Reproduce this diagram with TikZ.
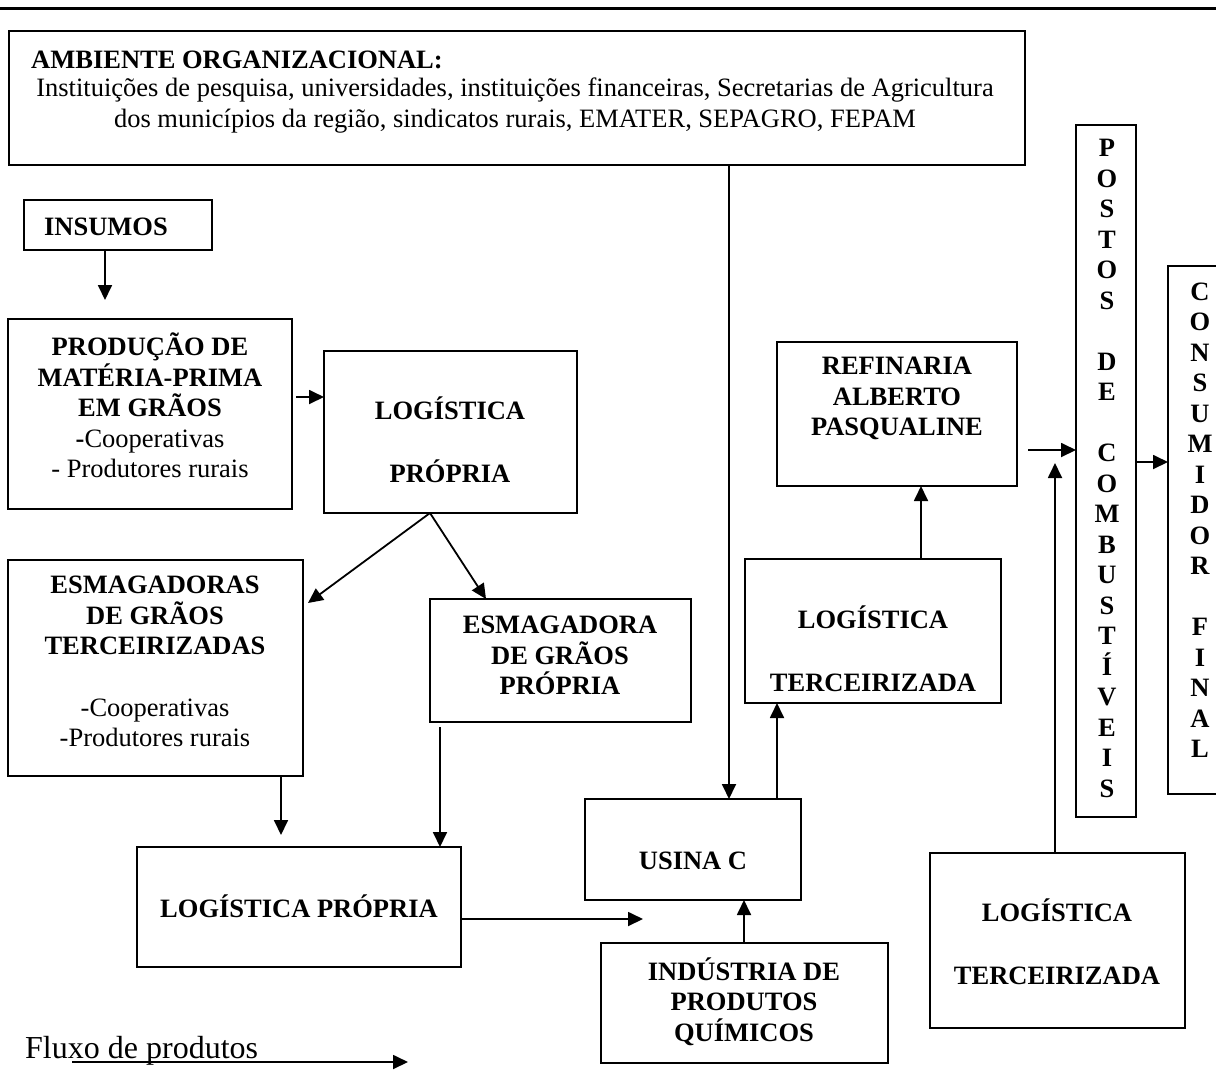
\documentclass[tikz,border=0pt]{standalone}
\usepackage{fontspec}
\setmainfont{Liberation Serif}
\usetikzlibrary{arrows.meta}
\begin{document}
\begin{tikzpicture}[x=1pt,y=-1pt,
  box/.style={draw, line width=2pt, anchor=north west, inner sep=0pt, outer sep=0pt},
  txt/.style={align=center, inner sep=0pt, font=\fontsize{26.5}{30.5}\selectfont\bfseries,
    execute at begin node=\strut, execute at end node=\strut},
  plain/.style={txt, font=\fontsize{26.5}{30.5}\selectfont},
  legend/.style={txt, font=\fontsize{32}{37}\selectfont},
  arr/.style={line width=1.8pt, -{Triangle[length=15pt,width=14pt]}}
]
\useasboundingbox (0,0) rectangle (1216,1080);
\fill[white] (0,0) rectangle (1216,1080);

% page rule
\draw[line width=3pt] (0,8) -- (1216,8);

% boxes
\node[box, minimum width=1016, minimum height=134] (amb) at (9,31) {};
\node[box, minimum width=188, minimum height=50] (ins) at (24,200) {};
\node[box, minimum width=284, minimum height=190] (prod) at (8,319) {};
\node[box, minimum width=253, minimum height=162] (log1) at (324,351) {};
\node[box, minimum width=295, minimum height=216] (esmT) at (8,560) {};
\node[box, minimum width=261, minimum height=123] (esmP) at (430,599) {};
\node[box, minimum width=324, minimum height=120] (log2) at (137,847) {};
\node[box, minimum width=216, minimum height=101] (usina) at (585,799) {};
\node[box, minimum width=287, minimum height=120] (ind) at (601,943) {};
\node[box, minimum width=256, minimum height=144] (logT1) at (745,559) {};
\node[box, minimum width=240, minimum height=144] (ref) at (777,342) {};
\node[box, minimum width=255, minimum height=175] (logT2) at (930,853) {};
\node[box, minimum width=60, minimum height=692] (postos) at (1076,125) {};
\node[box, minimum width=72, minimum height=528] (cons) at (1168,266) {};

% texts
\node[txt, anchor=west] (ambT) at (31,62.7) {AMBIENTE ORGANIZACIONAL:};
\node[plain] (ambB) at (515,107) {Instituições de pesquisa, universidades, instituições financeiras, Secretarias de Agricultura\\dos municípios da região, sindicatos rurais, EMATER, SEPAGRO, FEPAM};
\node[txt] (insT) at (106,229.7) {INSUMOS};
\node[txt] (prodT) at (150,410) {PRODUÇÃO DE\\MATÉRIA-PRIMA\\EM GRÃOS\\-{\mdseries Cooperativas}\\{\mdseries - Produtores rurais}};
\node[txt] (log1T) at (450,444) {LOGÍSTICA\\[32pt]PRÓPRIA};
\node[txt] (esmTT) at (155,666) {ESMAGADORAS\\DE GRÃOS\\TERCEIRIZADAS\\[31pt]{\mdseries -Cooperativas}\\{\mdseries -Produtores rurais}};
\node[txt] (esmPT) at (560,660) {ESMAGADORA\\DE GRÃOS\\PRÓPRIA};
\node[txt] (log2T) at (299,911) {LOGÍSTICA PRÓPRIA};
\node[txt] (usinaT) at (693,863) {USINA C};
\node[txt] (indT) at (744,1004) {INDÚSTRIA DE\\PRODUTOS\\QUÍMICOS};
\node[txt] (logT1T) at (873,653) {LOGÍSTICA\\[32pt]TERCEIRIZADA};
\node[txt] (refT) at (897,401) {REFINARIA\\ALBERTO\\PASQUALINE};
\node[txt] (logT2T) at (1057,946) {LOGÍSTICA\\[32pt]TERCEIRIZADA};
\node[txt] (postosT) at (1107,473) {P\\O\\S\\T\\O\\S\\[30.5pt]D\\E\\[30.5pt]C\\O\\M\\B\\U\\S\\T\\Í\\V\\E\\I\\S};
\node[txt] (consT) at (1200,525) {C\\O\\N\\S\\U\\M\\I\\D\\O\\R\\[30.5pt]F\\I\\N\\A\\L};
\node[legend, anchor=west] (flux) at (25,1050.6) {Fluxo de produtos};

% connector end points
\coordinate (insEnd) at (105,300);
\coordinate (prodOut) at (296,397);
\coordinate (esmTin) at (308,603);
\coordinate (esmPin) at (486,599);
\coordinate (esmTdown) at (281,835);
\coordinate (esmPdown) at (440,727);
\coordinate (log2out) at (643,919);
\coordinate (ambX) at (729,0);
\coordinate (usinaX) at (777,0);
\coordinate (logT1X) at (921,0);
\coordinate (refOut) at (1028,450);
\coordinate (logT2up) at (1055,463);
\coordinate (postosY) at (0,462);
\coordinate (indX) at (744,0);
\coordinate (legA) at (72,1062);
\coordinate (legB) at (408,1062);

% product flow
\draw[arr] (ins.south -| insEnd) -- (insEnd);
\draw[arr] (prodOut) -- (log1.west |- prodOut);
\draw[arr] (log1.south -| esmP.west) -- (esmTin);
\draw[arr] (log1.south -| esmP.west) -- (esmPin);
\draw[arr] (esmT.south -| esmTdown) -- (esmTdown);
\draw[arr] (esmPdown) -- (log2.north -| esmPdown);
\draw[arr] (log2.east |- log2out) -- (log2out);
\draw[arr] (amb.south -| ambX) -- (usina.north -| ambX);
\draw[arr] (usina.north -| usinaX) -- (logT1.south -| usinaX);
\draw[arr] (ind.north -| indX) -- (usina.south -| indX);
\draw[arr] (logT1.north -| logT1X) -- (ref.south -| logT1X);
\draw[arr] (refOut) -- (postos.west |- refOut);
\draw[arr] (logT2.north -| logT2up) -- (logT2up);
\draw[arr] (postos.east |- postosY) -- (cons.west |- postosY);
\draw[arr] (legA) -- (legB);
\end{tikzpicture}
\end{document}
